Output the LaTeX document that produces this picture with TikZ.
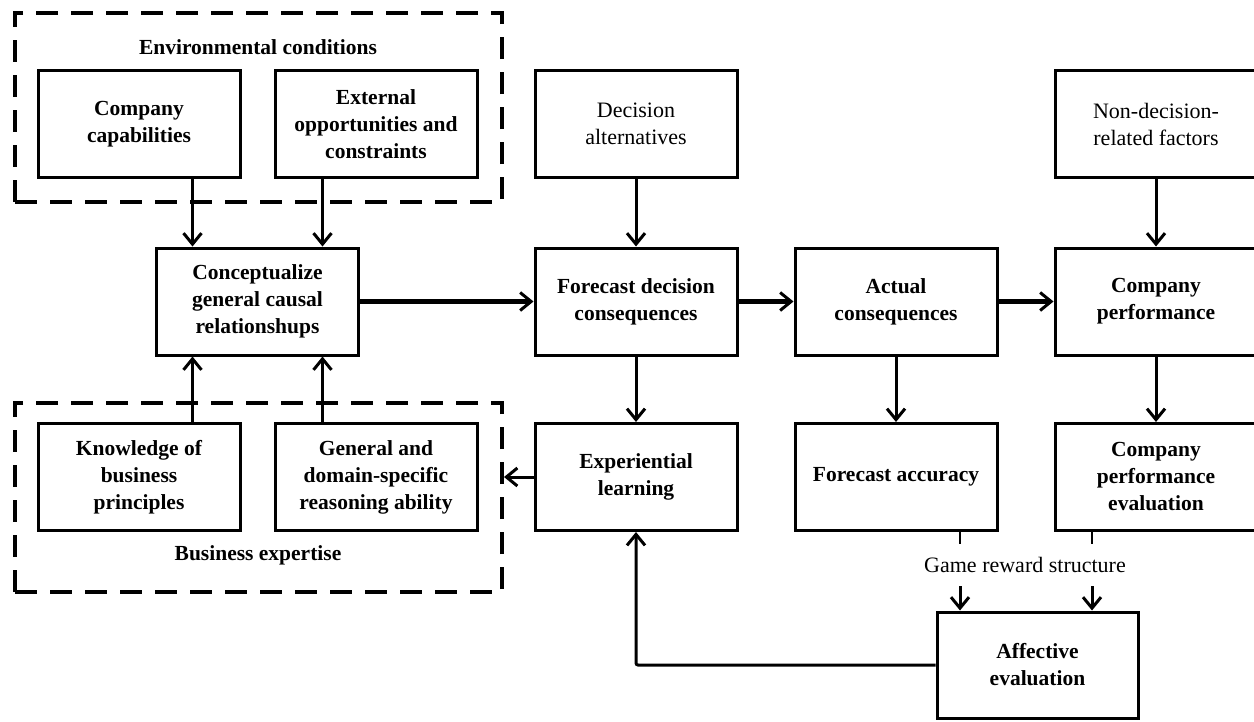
\documentclass[tikz,border=0pt]{standalone}
\usepackage{fontspec}
\setmainfont{Liberation Serif}
\usetikzlibrary{arrows.meta}

\begin{document}
\begin{tikzpicture}[x=1pt,y=-1pt]
	%
	% `block' is used for the bold boxes, `plainblock' for the light ones.
	% `group' is used for the dashed boxes round them.
	% `flow' and `bigflow' are the arrows.
	\tikzstyle{block} = [draw,line width=3pt,fill=white,minimum width=202pt,minimum height=107pt,align=center,inner sep=2pt,font=\fontsize{21.5}{27}\selectfont\bfseries]
	\tikzstyle{plainblock} = [block,font=\fontsize{22}{27}\selectfont]
	\tikzstyle{group} = [draw,line width=4pt,dash pattern=on 22pt off 13pt,minimum width=487pt,minimum height=189pt,inner sep=0pt]
	\tikzstyle{grouplabel} = [font=\fontsize{21.5}{27}\selectfont\bfseries]
	\tikzstyle{flow} = [line width=3pt,-{Straight Barb[length=11pt,width=18pt,line width=3pt]}]
	\tikzstyle{bigflow} = [flow,line width=4.5pt]
	\useasboundingbox (0,0) rectangle (1254,721);
	%
	% Dashed groups
	\node[group] (envgroup) at (258.5,107.5) {};
	\node[grouplabel] (envlabel) at (258,47) {Environmental conditions};
	\node[group] (expgroup) at (258.5,497.5) {};
	\node[grouplabel] (explabel) at (258,555) {Business expertise};
	%
	% Top row
	\node[block] (cap) at (139,124) {Company\\capabilities};
	\node[block] (ext) at (376,124) {External\\opportunities and\\constraints};
	\node[plainblock] (alt) at (636,124) {Decision\\alternatives};
	\node[plainblock] (nondec) at (1156,124) {Non-decision-\\related factors};
	%
	% Middle row
	\node[block] (concept) at (257.5,301.5) {Conceptualize\\general causal\\relationshups};
	\node[block] (fcast) at (636,301.5) {Forecast decision\\consequences};
	\node[block] (actual) at (896,301.5) {Actual\\consequences};
	\node[block] (perf) at (1156,301.5) {Company\\performance};
	%
	% Bottom row
	\node[block] (know) at (139,477) {Knowledge of\\business\\principles};
	\node[block] (reason) at (376,477) {General and\\domain-specific\\reasoning ability};
	\node[block] (learn) at (636,477) {Experiential\\learning};
	\node[block] (acc) at (896,477) {Forecast accuracy};
	\node[block] (eval) at (1156,477) {Company\\performance\\evaluation};
	%
	% Reward and affect
	\node[font=\fontsize{22}{27}\selectfont,minimum height=42pt] (reward) at (1025,565) {Game reward structure};
	\node[block,minimum width=201pt,minimum height=106pt] (affect) at (1037.5,665) {Affective\\evaluation};
	%
	% Arrows into and out of the causal model
	\draw[flow] ([xshift=-65pt]concept.north |- cap.south) -- ([xshift=-65pt]concept.north);
	\draw[flow] ([xshift=65pt]concept.north |- ext.south) -- ([xshift=65pt]concept.north);
	\draw[flow] ([xshift=-65pt]concept.south |- know.north) -- ([xshift=-65pt]concept.south);
	\draw[flow] ([xshift=65pt]concept.south |- reason.north) -- ([xshift=65pt]concept.south);
	\draw[bigflow] (concept) -- (fcast);
	%
	% Main chain
	\draw[flow] (alt) -- (fcast);
	\draw[bigflow] (fcast) -- (actual);
	\draw[bigflow] (actual) -- (perf);
	\draw[flow] (nondec) -- (perf);
	\draw[flow] (fcast) -- (learn);
	\draw[flow] (actual) -- (acc);
	\draw[flow] (perf) -- (eval);
	\draw[flow] (learn.west) -- (learn.west -| expgroup.east);
	%
	% Feedback
	\draw[line width=2.5pt] ([xshift=64pt]acc.south) -- ([xshift=64pt]acc.south |- reward.north);
	\draw[line width=2.5pt] ([xshift=-64pt]eval.south) -- ([xshift=-64pt]eval.south |- reward.north);
	\draw[flow] ([xshift=64pt]acc.south |- reward.south) -- ([xshift=64pt]acc.south |- affect.north);
	\draw[flow] ([xshift=-64pt]eval.south |- reward.south) -- ([xshift=-64pt]eval.south |- affect.north);
	\draw[flow,rounded corners=2pt] (affect.west) -| (learn.south);
	%
\end{tikzpicture}
\end{document}
